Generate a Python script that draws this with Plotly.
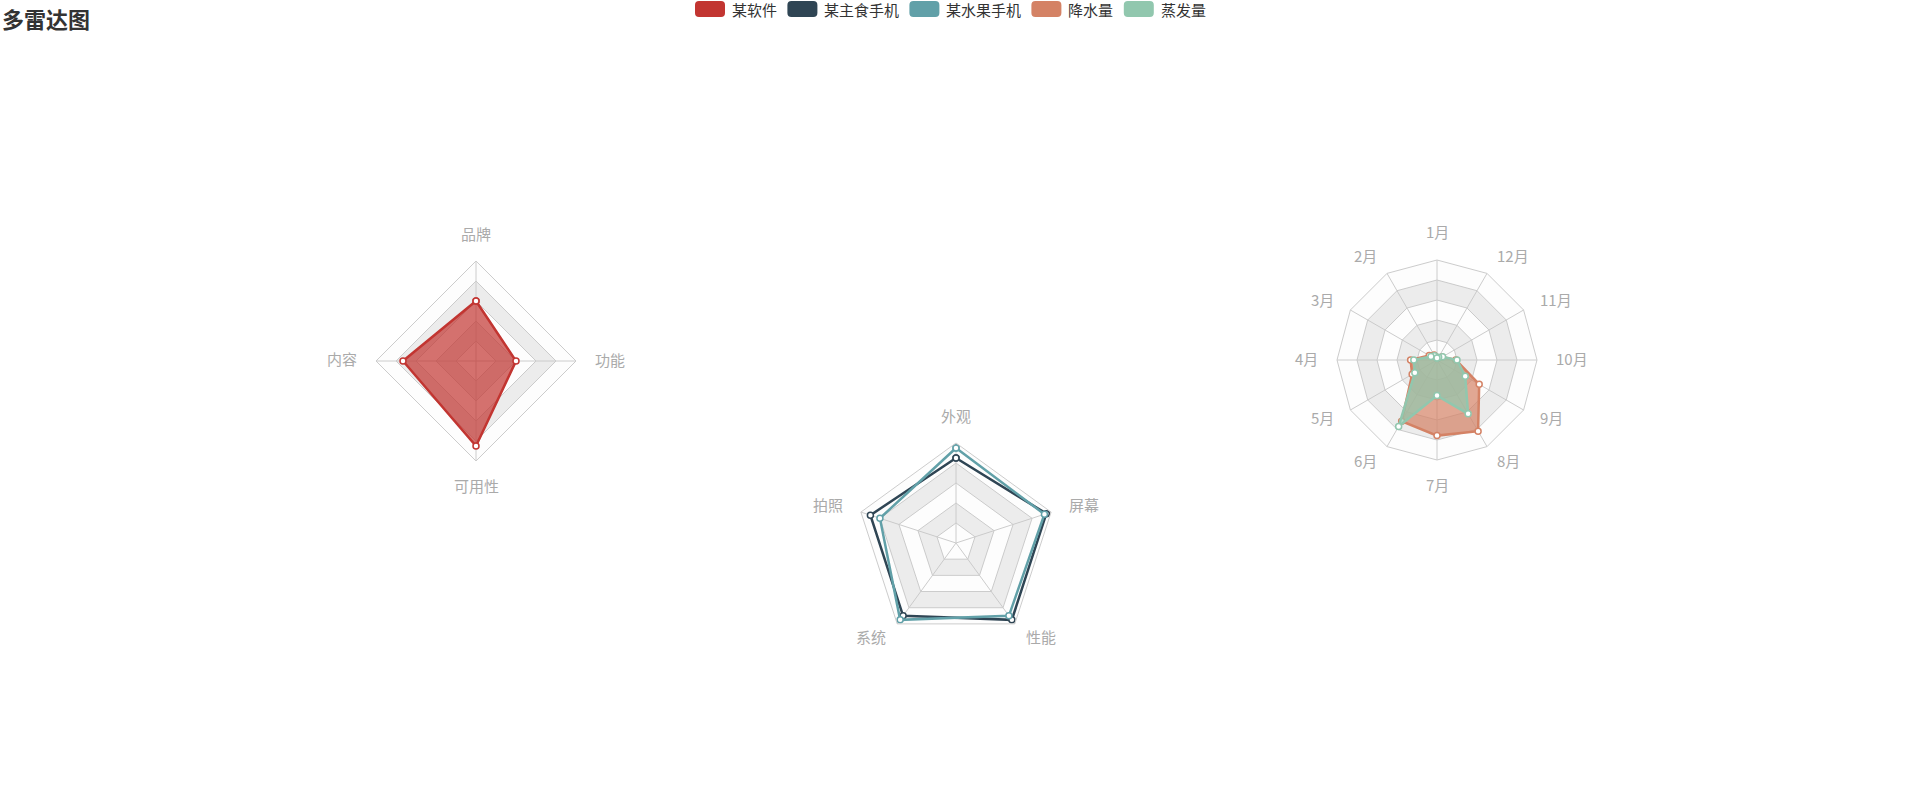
import math
import plotly.graph_objects as go

W, H = 1911, 806

# 数据
software_axes = ["品牌", "内容", "可用性", "功能"]
software_values = [60, 73, 85, 40]

phone_axes = ["外观", "拍照", "系统", "性能", "屏幕"]
staple_phone = [85, 90, 90, 95, 95]
fruit_phone = [95, 80, 95, 90, 93]

months = ["1月", "2月", "3月", "4月", "5月", "6月", "7月", "8月", "9月", "10月", "11月", "12月"]
rainfall = [2.6, 5.9, 9.0, 26.4, 28.7, 70.7, 75.6, 82.2, 48.7, 18.8, 6.0, 2.3]
evaporation = [2.0, 4.9, 7.0, 23.2, 25.6, 76.7, 35.6, 62.2, 32.6, 20.0, 6.4, 3.3]

series_names = ["某软件", "某主食手机", "某水果手机", "降水量", "蒸发量"]
colors = ["#c23531", "#2f4554", "#61a0a8", "#d48265", "#91c7ae"]

FONT = "Noto Sans CJK SC"
RADIUS = 100
centers = [(476, 361), (956, 543), (1437, 360)]  # 像素中心
axes_list = [software_axes, phone_axes, months]


def rgba(hex_color, a):
    h = hex_color.lstrip("#")
    return f"rgba({int(h[0:2], 16)},{int(h[2:4], 16)},{int(h[4:6], 16)},{a})"


def closed(seq):
    return list(seq) + [seq[0]]


def subplot_name(i):
    return "polar" if i == 0 else f"polar{i + 1}"


fig = go.Figure()

# 分隔区域（灰白交替）
for i, cats in enumerate(axes_list):
    for inner, outer in [(20, 40), (60, 80)]:
        th = closed(cats) + closed(cats)[::-1]
        rr = [outer] * (len(cats) + 1) + [inner] * (len(cats) + 1)
        fig.add_trace(go.Scatterpolar(
            r=rr, theta=th, mode="lines", fill="toself",
            fillcolor="rgba(200,200,200,0.3)", line=dict(width=0),
            hoverinfo="skip", showlegend=False, subplot=subplot_name(i),
        ))


def radar(values, cats, name, color, subplot, area):
    fig.add_trace(go.Scatterpolar(
        r=closed(values), theta=closed(cats), name=name,
        mode="lines+markers",
        fill="toself" if area else "none",
        fillcolor=rgba(color, 0.7) if area else None,
        line=dict(color=color, width=2.5),
        marker=dict(size=6, color="white", line=dict(color=color, width=1.5)),
        showlegend=False, subplot=subplot,
    ))


radar(software_values, software_axes, series_names[0], colors[0], "polar", True)
radar(staple_phone, phone_axes, series_names[1], colors[1], "polar2", False)
radar(fruit_phone, phone_axes, series_names[2], colors[2], "polar2", False)
radar(rainfall, months, series_names[3], colors[3], "polar3", True)
radar(evaporation, months, series_names[4], colors[4], "polar3", True)

layout = dict(
    width=W, height=H,
    margin=dict(l=0, r=0, t=0, b=0),
    paper_bgcolor="white",
    font=dict(family=FONT),
    showlegend=False,
)

for i, (cats, (cx, cy)) in enumerate(zip(axes_list, centers)):
    layout[subplot_name(i)] = dict(
        domain=dict(
            x=[(cx - RADIUS) / W, (cx + RADIUS) / W],
            y=[1 - (cy + RADIUS) / H, 1 - (cy - RADIUS) / H],
        ),
        gridshape="linear",
        bgcolor="rgba(250,250,250,0.3)",
        radialaxis=dict(
            range=[0, 100], dtick=20, showticklabels=False, ticks="",
            showline=False, gridcolor="#cccccc", gridwidth=1,
        ),
        angularaxis=dict(
            type="category", categoryarray=cats, rotation=90,
            direction="counterclockwise", ticks="", showticklabels=False,
            showline=True, linecolor="#cccccc", linewidth=1,
            gridcolor="#cccccc",
        ),
    )

fig.update_layout(**layout)

# 指示器名称（按 ECharts 的对齐规则放在外圈之外）
for cats, (cx, cy) in zip(axes_list, centers):
    for k, cat in enumerate(cats):
        a = math.radians(90 + 360 * k / len(cats))
        c, s = math.cos(a), math.sin(a)
        if abs(c) < 0.01:
            gap = 14.5
            xa, ya = "center", ("bottom" if s > 0 else "top")
        else:
            gap = 18
            xa, ya = ("left" if c > 0 else "right"), "middle"
        px = cx + (RADIUS + gap) * c
        py = cy - (RADIUS + gap) * s - 2
        fig.add_annotation(
            text=cat, xref="paper", yref="paper", x=px / W, y=1 - py / H,
            xanchor=xa, yanchor=ya, showarrow=False, borderpad=0,
            font=dict(size=15, color="#aaaaaa", family=FONT),
        )

# 标题
fig.add_annotation(
    text="<b>多雷达图</b>", xref="paper", yref="paper", x=0, y=1,
    xanchor="left", yanchor="top", showarrow=False,
    font=dict(size=22, color="#333333", family=FONT),
)

# 图例（圆角矩形 + 文字）
x = 695
ly = 1 - 9 / H
icon_w, icon_h, rad = 30, 16, 4
for name, color in zip(series_names, colors):
    hw, hh = icon_w / 2, icon_h / 2
    path = (f"M{-hw + rad},{-hh} L{hw - rad},{-hh} Q{hw},{-hh} {hw},{-hh + rad} "
            f"L{hw},{hh - rad} Q{hw},{hh} {hw - rad},{hh} L{-hw + rad},{hh} "
            f"Q{-hw},{hh} {-hw},{hh - rad} L{-hw},{-hh + rad} Q{-hw},{-hh} {-hw + rad},{-hh} Z")
    fig.add_shape(
        type="path", path=path, xref="paper", yref="paper",
        xsizemode="pixel", ysizemode="pixel",
        xanchor=(x + hw) / W, yanchor=ly,
        fillcolor=color, line=dict(width=0),
    )
    fig.add_annotation(
        text=name, xref="paper", yref="paper", x=(x + icon_w + 5) / W, y=ly,
        xanchor="left", yanchor="middle", showarrow=False,
        font=dict(size=15, color="#333333", family=FONT),
    )
    x += icon_w + 6 + len(name) * 14.8 + 12

fig.write_html(
    "out.html",
    config={"displayModeBar": False},
    post_script="document.body.style.margin='0';",
)
